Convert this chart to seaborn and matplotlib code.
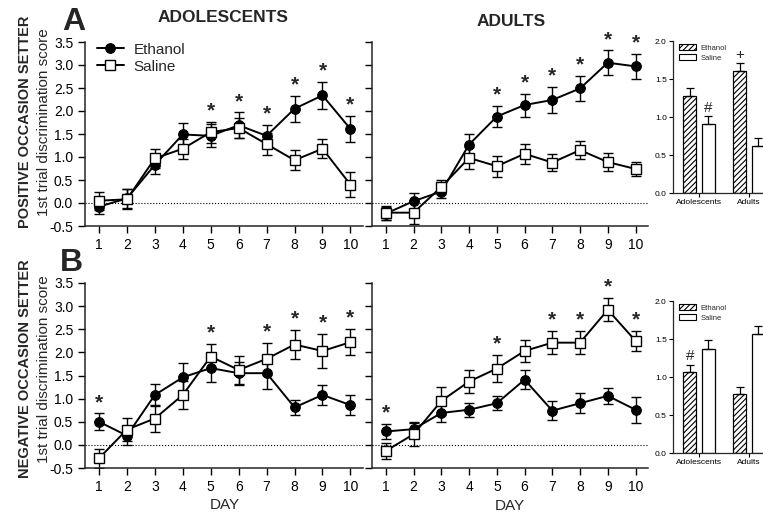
import matplotlib

matplotlib.use("Agg")

import matplotlib.pyplot as plt
import numpy as np
import pandas as pd
import seaborn as sns
from matplotlib.patches import Patch

# ---- data ----
days = list(range(1, 11))

# panel A, positive occasion setter
pos_adol_eth = [-0.08, 0.10, 0.83, 1.49, 1.46, 1.69, 1.46, 2.05, 2.34, 1.61]
pos_adol_eth_err = [0.15, 0.20, 0.20, 0.26, 0.25, 0.28, 0.23, 0.28, 0.29, 0.28]
pos_adol_sal = [0.05, 0.08, 0.97, 1.18, 1.54, 1.63, 1.28, 0.93, 1.18, 0.40]
pos_adol_sal_err = [0.20, 0.22, 0.20, 0.22, 0.23, 0.22, 0.24, 0.22, 0.21, 0.27]
pos_adult_eth = [-0.23, 0.04, 0.25, 1.27, 1.88, 2.13, 2.24, 2.49, 3.05, 2.97]
pos_adult_eth_err = [0.15, 0.18, 0.15, 0.23, 0.23, 0.25, 0.28, 0.27, 0.27, 0.28]
pos_adult_sal = [-0.21, -0.21, 0.35, 0.98, 0.80, 1.07, 0.88, 1.15, 0.89, 0.74]
pos_adult_sal_err = [0.15, 0.25, 0.15, 0.23, 0.23, 0.22, 0.18, 0.20, 0.20, 0.15]

# panel B, negative occasion setter
neg_adol_eth = [0.50, 0.20, 1.08, 1.46, 1.66, 1.55, 1.55, 0.81, 1.08, 0.86]
neg_adol_eth_err = [0.18, 0.20, 0.23, 0.30, 0.30, 0.25, 0.34, 0.17, 0.22, 0.22]
neg_adol_sal = [-0.29, 0.33, 0.57, 1.08, 1.91, 1.62, 1.86, 2.17, 2.03, 2.22]
neg_adol_sal_err = [0.20, 0.25, 0.30, 0.30, 0.27, 0.30, 0.35, 0.31, 0.37, 0.28]
neg_adult_eth = [0.29, 0.34, 0.69, 0.76, 0.90, 1.41, 0.74, 0.90, 1.06, 0.76]
neg_adult_eth_err = [0.17, 0.15, 0.20, 0.15, 0.15, 0.20, 0.20, 0.22, 0.17, 0.28]
neg_adult_sal = [-0.13, 0.23, 0.95, 1.37, 1.65, 2.03, 2.21, 2.21, 2.92, 2.25]
neg_adult_sal_err = [0.17, 0.25, 0.30, 0.25, 0.30, 0.24, 0.25, 0.25, 0.25, 0.22]

star_pos_adol = [5, 6, 7, 8, 9, 10]
star_pos_adult = [5, 6, 7, 8, 9, 10]
star_neg_adol = [1, 5, 7, 8, 9, 10]
star_neg_adult = [1, 5, 7, 8, 9, 10]

# inset bars: overall means
groups = ["Adolescents", "Adults"]
pos_bar_eth = [1.27, 1.60]
pos_bar_eth_err = [0.11, 0.11]
pos_bar_sal = [0.91, 0.62]
pos_bar_sal_err = [0.10, 0.10]
neg_bar_eth = [1.07, 0.78]
neg_bar_eth_err = [0.09, 0.09]
neg_bar_sal = [1.37, 1.56]
neg_bar_sal_err = [0.12, 0.11]

W, H = 763, 517
sns.set_style("ticks")
plt.rcParams["font.family"] = ["Liberation Sans", "DejaVu Sans"]
plt.rcParams["hatch.linewidth"] = 0.8

fig = plt.figure(figsize=(W / 100, H / 100), dpi=100)


def px(l, t, r, b):
    return [l / W, 1 - b / H, (r - l) / W, (b - t) / H]


def line_panel(ax, eth, eth_err, sal, sal_err, stars, show_labels, legend=False):
    ax.errorbar(days, eth, yerr=eth_err, fmt="none", ecolor="black",
                elinewidth=1.0, capsize=3.5, capthick=1.0, zorder=1)
    ax.errorbar(days, sal, yerr=sal_err, fmt="none", ecolor="black",
                elinewidth=1.0, capsize=3.5, capthick=1.0, zorder=1)
    sns.lineplot(x=days, y=eth, ax=ax, color="black", marker="o", markersize=7,
                 markerfacecolor="black", markeredgecolor="black", linewidth=1.4,
                 label="Ethanol", legend=False, zorder=3)
    sns.lineplot(x=days, y=sal, ax=ax, color="black", marker="s", markersize=7,
                 markerfacecolor="white", markeredgecolor="black", markeredgewidth=1.0,
                 linewidth=1.4, label="Saline", legend=False, zorder=3)
    ax.axhline(0, color="black", linestyle=":", linewidth=0.8, zorder=0)
    ax.set_xlim(0.5, 10.45)
    ax.set_ylim(-0.5, 3.5)
    ax.set_xticks(days)
    ax.set_yticks(np.arange(-0.5, 3.51, 0.5))
    ax.set_yticklabels([f"{v:.1f}" for v in np.arange(-0.5, 3.51, 0.5)] if show_labels else [])
    ax.tick_params(direction="out", length=5, width=1, labelsize=10, colors="black")
    for s in ["top", "right"]:
        ax.spines[s].set_visible(False)
    for s in ["left", "bottom"]:
        ax.spines[s].set_linewidth(1.1)
    ax.set_xlabel("")
    ax.set_ylabel("")
    for d in stars:
        i = d - 1
        top = max(eth[i] + eth_err[i], sal[i] + sal_err[i])
        ax.text(d, top + 0.03, "*", ha="center", va="bottom", fontsize=15,
                fontweight="bold")
    if legend:
        ax.legend(loc="upper left", frameon=False, fontsize=11, handlelength=1.8,
                  borderaxespad=0.0, bbox_to_anchor=(0.02, 1.03), labelspacing=0.2,
                  handletextpad=0.6)


def bar_panel(ax, eth, eth_err, sal, sal_err, marks):
    df = pd.DataFrame({
        "group": groups * 2,
        "treat": ["Ethanol"] * 2 + ["Saline"] * 2,
        "value": eth + sal,
    })
    sns.barplot(data=df, x="group", y="value", hue="treat", ax=ax, width=0.74,
                gap=0.3, palette=["white", "white"], edgecolor="black",
                linewidth=0.9, errorbar=None, legend=False)
    for bar in ax.patches[:2]:
        bar.set_hatch("//////")
    errs = eth_err + sal_err
    vals = eth + sal
    for bar, v, e in zip(ax.patches[:4], vals, errs):
        cx = bar.get_x() + bar.get_width() / 2
        ax.errorbar([cx], [v], yerr=[[0], [e]], fmt="none", ecolor="black",
                    elinewidth=0.9, capsize=3, capthick=0.9)
    for (gi, ti, sym) in marks:
        bar = ax.patches[ti * 2 + gi]
        cx = bar.get_x() + bar.get_width() / 2
        top = vals[ti * 2 + gi] + errs[ti * 2 + gi]
        ax.text(cx, top + 0.02, sym, ha="center", va="bottom", fontsize=11)
    ax.set_xlim(-0.52, 1.5)
    ax.set_ylim(0, 2.0)
    ax.set_yticks([0, 0.5, 1.0, 1.5, 2.0])
    ax.set_yticklabels(["0.0", "0.5", "1.0", "1.5", "2.0"])
    ax.tick_params(direction="out", length=3, width=0.8, labelsize=6, colors="black",
                   pad=1.5)
    for s in ["top", "right"]:
        ax.spines[s].set_visible(False)
    for s in ["left", "bottom"]:
        ax.spines[s].set_linewidth(0.9)
    ax.set_xlabel("")
    ax.set_ylabel("")
    handles = [
        Patch(facecolor="white", edgecolor="black", hatch="//////", linewidth=0.8,
              label="Ethanol"),
        Patch(facecolor="white", edgecolor="black", linewidth=0.8, label="Saline"),
    ]
    ax.legend(handles=handles, loc="upper left", frameon=False, fontsize=5.5,
              handlelength=2.2, handleheight=0.9, borderaxespad=0.0,
              bbox_to_anchor=(0.03, 1.0), labelspacing=0.3, handletextpad=0.6)


ax1 = fig.add_axes(px(85, 42, 363, 226))
ax2 = fig.add_axes(px(372, 42, 648, 226))
ax3 = fig.add_axes(px(85, 283, 363, 468))
ax4 = fig.add_axes(px(372, 283, 648, 468))
ax5 = fig.add_axes(px(673, 41, 774, 193))
ax6 = fig.add_axes(px(673, 301, 774, 453))

line_panel(ax1, pos_adol_eth, pos_adol_eth_err, pos_adol_sal, pos_adol_sal_err,
           star_pos_adol, True, legend=True)
line_panel(ax2, pos_adult_eth, pos_adult_eth_err, pos_adult_sal, pos_adult_sal_err,
           star_pos_adult, False)
line_panel(ax3, neg_adol_eth, neg_adol_eth_err, neg_adol_sal, neg_adol_sal_err,
           star_neg_adol, True)
line_panel(ax4, neg_adult_eth, neg_adult_eth_err, neg_adult_sal, neg_adult_sal_err,
           star_neg_adult, False)

# (group index, treatment index, symbol)
bar_panel(ax5, pos_bar_eth, pos_bar_eth_err, pos_bar_sal, pos_bar_sal_err,
          [(0, 1, "#"), (1, 0, "+")])
bar_panel(ax6, neg_bar_eth, neg_bar_eth_err, neg_bar_sal, neg_bar_sal_err,
          [(0, 0, "#")])

# titles, panel letters, axis labels
fig.text(223 / W, 1 - 17 / H, "ADOLESCENTS", ha="center", va="center",
         fontsize=12.5, fontweight="bold")
fig.text(511 / W, 1 - 21 / H, "ADULTS", ha="center", va="center",
         fontsize=12.5, fontweight="bold")
fig.text(74 / W, 1 - 22 / H, "A", ha="center", va="center", fontsize=23,
         fontweight="bold")
fig.text(71 / W, 1 - 263 / H, "B", ha="center", va="center", fontsize=23,
         fontweight="bold")
fig.text(25 / W, 1 - 122 / H, "POSITIVE OCCASION SETTER", rotation=90, ha="center",
         va="center", fontsize=10.5, fontweight="bold")
fig.text(44 / W, 1 - 122 / H, "1st trial discrimination score", rotation=90,
         ha="center", va="center", fontsize=11)
fig.text(25 / W, 1 - 369 / H, "NEGATIVE OCCASION SETTER", rotation=90, ha="center",
         va="center", fontsize=10.5, fontweight="bold")
fig.text(44 / W, 1 - 369 / H, "1st trial discrimination score", rotation=90,
         ha="center", va="center", fontsize=11)
fig.text(225 / W, 1 - 505 / H, "DAY", ha="center", va="center", fontsize=11)
fig.text(510 / W, 1 - 506 / H, "DAY", ha="center", va="center", fontsize=11)

fig.savefig("out.png", dpi=100)
